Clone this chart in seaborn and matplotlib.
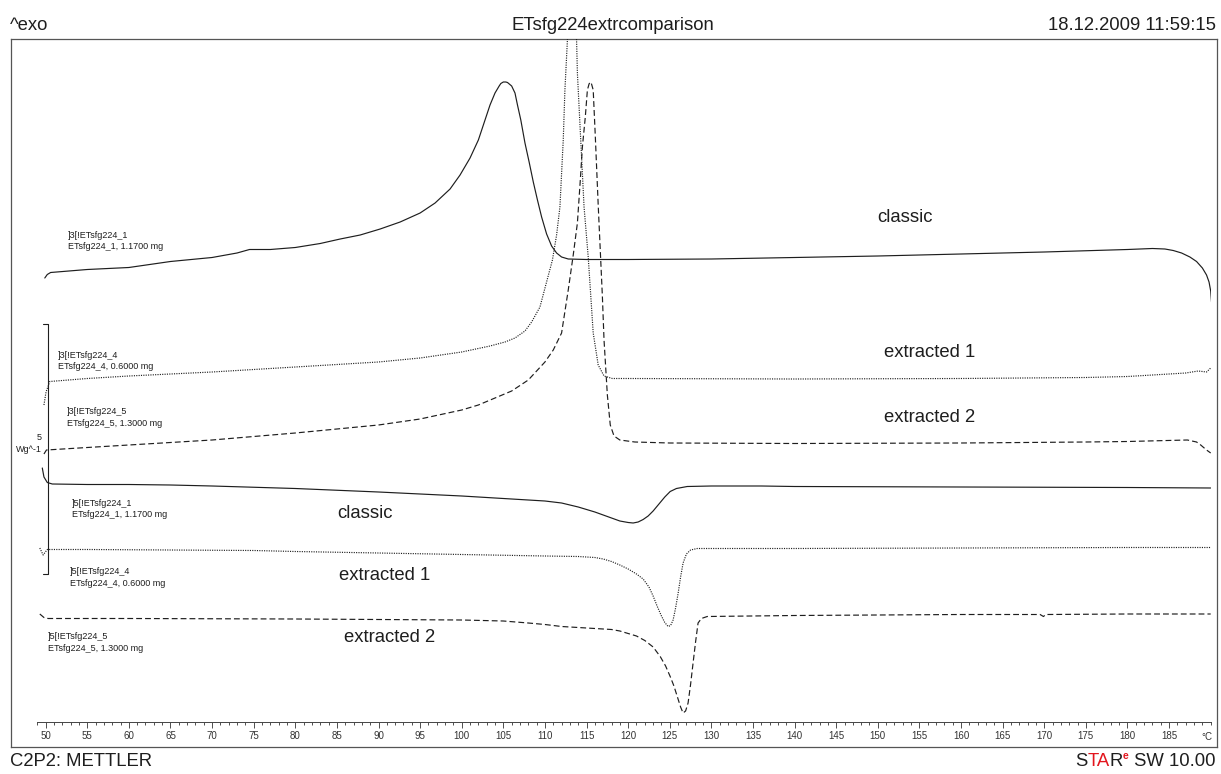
import matplotlib
matplotlib.use("Agg")
import matplotlib.pyplot as plt
from matplotlib.ticker import MultipleLocator
import numpy as np
import seaborn as sns

W, H = 1221, 774

# temperature (°C) and displayed heat flow (W/g, curves stacked as on the plot)
cool_classic_t = [49.9, 50.2, 50.6, 55, 60, 65, 70, 73, 74.5, 77, 80, 83, 85.4, 87.8, 90.2,
                  92.6, 95.0, 96.8, 98.6, 99.8, 101.0, 102.0, 102.8, 103.4, 104.0, 104.5,
                  104.7, 105.0, 105.3, 105.5, 106.0, 106.4, 106.7, 107.1, 107.6, 108.1,
                  108.6, 109.1, 109.6, 110.2, 110.8, 111.4, 112.0, 112.8, 115, 120, 130,
                  140, 150, 160, 170, 180, 183, 184.5, 185.5, 186.5, 187.5, 188.3, 189.0,
                  189.5, 189.8, 190.0, 190.1]
cool_classic_q = [8.88, 8.95, 8.99, 9.05, 9.09, 9.21, 9.29, 9.38, 9.45, 9.45, 9.49, 9.57,
                  9.66, 9.74, 9.86, 10.00, 10.18, 10.38, 10.66, 10.94, 11.28, 11.64, 12.04,
                  12.34, 12.58, 12.72, 12.77, 12.80, 12.80, 12.79, 12.72, 12.58, 12.34,
                  12.04, 11.58, 11.20, 10.80, 10.44, 10.10, 9.76, 9.52, 9.38, 9.30, 9.26,
                  9.25, 9.25, 9.26, 9.29, 9.32, 9.36, 9.40, 9.45, 9.47, 9.46, 9.43, 9.38,
                  9.30, 9.21, 9.08, 8.94, 8.80, 8.62, 8.40]

cool_ext1_t = [49.8, 50.05, 50.5, 55, 60, 70, 80, 90, 95, 100, 103.4, 105.2, 106.4, 107.6,
               108.4, 109.4, 110.1, 110.9, 111.4, 111.8, 112.2, 112.4, 112.7, 113.25,
               113.8, 113.9, 114.3, 114.7, 115.2, 115.8, 116.4, 117.1, 118.1, 120, 140,
               160, 175, 180, 185, 187, 188.5, 189.5, 190.0]
cool_ext1_q = [6.34, 6.60, 6.81, 6.87, 6.92, 7.00, 7.10, 7.20, 7.28, 7.40, 7.52, 7.60,
               7.68, 7.82, 8.00, 8.30, 8.74, 9.24, 9.74, 10.30, 11.64, 12.64, 13.64, 14.94,
               13.64, 12.98, 11.64, 10.30, 9.30, 7.78, 7.14, 6.92, 6.87, 6.87, 6.86, 6.87,
               6.89, 6.91, 6.96, 6.98, 7.02, 7.00, 7.08]

cool_ext2_t = [49.8, 50.1, 55, 60, 70, 80, 90, 95, 100, 102, 104, 106, 108, 110, 111, 112,
               112.8, 113.4, 113.9, 114.25, 114.5, 114.85, 115.1, 115.3, 115.45, 115.6,
               115.8, 116.05, 116.4, 116.9, 117.1, 117.5, 117.85, 118.3, 119, 120.8, 125,
               140, 160, 175, 180, 187.2, 188.3, 188.8, 189.5, 190.0]
cool_ext2_q = [5.36, 5.44, 5.49, 5.54, 5.64, 5.78, 5.94, 6.06, 6.24, 6.34, 6.48, 6.62,
               6.84, 7.20, 7.44, 7.78, 8.64, 9.34, 9.98, 10.84, 11.50, 12.10, 12.64, 12.76,
               12.80, 12.76, 12.64, 11.72, 10.34, 8.52, 7.64, 6.54, 5.94, 5.72, 5.64, 5.60,
               5.58, 5.57, 5.58, 5.60, 5.61, 5.64, 5.60, 5.54, 5.44, 5.38]

heat_classic_t = [49.6, 49.8, 50.2, 50.8, 55, 60, 65, 70, 80, 90, 100, 105, 110, 112, 113,
                  114, 115, 116, 117, 118, 119, 120, 120.6, 121.2, 121.8, 122.4, 123.0,
                  123.8, 124.4, 125.05, 125.8, 127.1, 130, 136, 140, 160, 180, 190]
heat_classic_q = [5.08, 4.90, 4.79, 4.76, 4.75, 4.75, 4.74, 4.72, 4.67, 4.60, 4.52, 4.47,
                  4.42, 4.38, 4.34, 4.30, 4.25, 4.20, 4.14, 4.08, 4.02, 3.99, 3.98, 4.00,
                  4.05, 4.12, 4.22, 4.38, 4.50, 4.61, 4.67, 4.71, 4.72, 4.72, 4.71, 4.70,
                  4.69, 4.68]

heat_ext1_t = [49.3, 49.7, 50.2, 55, 65, 75, 80, 90, 100, 110, 114, 116, 117, 118, 119, 120,
               121, 121.8, 122.5, 123.0, 123.5, 124.0, 124.4, 124.8, 125.1, 125.4, 125.7,
               126.0, 126.3, 126.6, 127.0, 127.5, 128.3, 140, 160, 180, 190]
heat_ext1_q = [3.48, 3.34, 3.45, 3.45, 3.44, 3.43, 3.41, 3.38, 3.35, 3.32, 3.31, 3.29,
               3.26, 3.21, 3.14, 3.06, 2.96, 2.86, 2.70, 2.52, 2.31, 2.12, 1.99, 1.91,
               1.93, 2.04, 2.28, 2.57, 2.90, 3.18, 3.36, 3.44, 3.47, 3.47, 3.48, 3.49, 3.49]

heat_ext2_t = [49.3, 49.8, 50.3, 60, 80, 100, 105, 108, 110, 112, 115, 118, 119, 120, 121,
               122, 123, 123.85, 124.5, 125.05, 125.5, 125.9, 126.3, 126.6, 126.9, 127.2,
               127.5, 127.8, 128.1, 128.4, 128.8, 129.5, 140, 160, 169.5, 169.9, 170.2,
               180, 190]
heat_ext2_q = [2.16, 2.09, 2.07, 2.07, 2.06, 2.04, 2.02, 1.98, 1.95, 1.91, 1.88, 1.85,
               1.82, 1.77, 1.72, 1.63, 1.50, 1.31, 1.12, 0.91, 0.72, 0.51, 0.30, 0.18,
               0.22, 0.38, 0.75, 1.18, 1.60, 1.98, 2.07, 2.11, 2.13, 2.15, 2.15, 2.11,
               2.15, 2.16, 2.16]

tick_temps = list(range(50, 190, 5))
scale_wg = 5

sns.set_style("white")
plt.rcParams["font.family"] = ["Liberation Sans", "DejaVu Sans"]
plt.rcParams["lines.scale_dashes"] = False

ink = "#1e1e1e"
dotted = (0, (0.8, 0.9))
dashed = (0, (4.2, 2.2))


def px_box(x0, y0, x1, y1):
    return [x0 / W, 1 - y1 / H, (x1 - x0) / W, (y1 - y0) / H]


def ptext(x, y, s, **kw):
    kw.setdefault("color", ink)
    return fig.text(x / W, 1 - y / H, s, **kw)


fig = plt.figure(figsize=(W / 100, H / 100), dpi=100)

# outer box
frame = fig.add_axes(px_box(11, 39.3, 1217, 746.7))
frame.set_xticks([])
frame.set_yticks([])
for s in frame.spines.values():
    s.set_color("#555555")
    s.set_linewidth(0.9)

# plotting area, bottom spine is the temperature ruler
ax = fig.add_axes(px_box(37.3, 39.3, 1210.7, 722))
ax.patch.set_alpha(0)

curves = [
    (cool_classic_t, cool_classic_q, "-"),
    (cool_ext1_t, cool_ext1_q, dotted),
    (cool_ext2_t, cool_ext2_q, dashed),
    (heat_classic_t, heat_classic_q, "-"),
    (heat_ext1_t, heat_ext1_q, dotted),
    (heat_ext2_t, heat_ext2_q, dashed),
]
for t, q, ls in curves:
    sns.lineplot(x=t, y=q, ax=ax, color=ink, linewidth=0.85, linestyle=ls,
                 estimator=None, sort=False)

ax.set_xlim(49, 190)
ax.set_ylim(0, (722 - 39.3) / 50)
ax.set_xlabel("")
ax.set_ylabel("")
ax.set_yticks([])
ax.set_xticks(tick_temps)
ax.set_xticklabels([str(v) for v in tick_temps])
ax.xaxis.set_minor_locator(MultipleLocator(1))
ax.tick_params(axis="x", which="major", direction="out", length=4, width=0.6,
               pad=2.5, labelsize=7, colors="#333333", bottom=True)
ax.tick_params(axis="x", which="minor", direction="out", length=2.4, width=0.6,
               colors="#333333", bottom=True)
for side in ["top", "left", "right"]:
    ax.spines[side].set_visible(False)
ax.spines["bottom"].set_color("#444444")
ax.spines["bottom"].set_linewidth(0.7)

# scale bar (5 W/g)
bar_t, bar_tick = 50.34, 49.74
bar_lo = 2.96
ax.plot([bar_tick, bar_t, bar_t, bar_tick], [bar_lo + scale_wg, bar_lo + scale_wg, bar_lo, bar_lo],
        color=ink, lw=0.8, clip_on=False)
ptext(39, 437, str(scale_wg), fontsize=6.5, ha="center", va="center")
ptext(42, 449, "Wg^-1", fontsize=6.5, ha="right", va="center")

ptext(1207, 737, "°C", fontsize=7, ha="center", va="center", color="#333333")

# header / footer
ptext(10, 30.5, "^exo", fontsize=13.3, ha="left", va="baseline")
ptext(613, 30.5, "ETsfg224extrcomparison", fontsize=13.3, ha="center", va="baseline")
ptext(1216, 30.5, "18.12.2009 11:59:15", fontsize=13.3, ha="right", va="baseline")
ptext(10, 766, "C2P2: METTLER", fontsize=13.3, ha="left", va="baseline")

red = "#e3161e"
s1 = ptext(1075, 766, "S", fontsize=13.3, ha="left", va="baseline")
s2 = ax.annotate("TA", xy=(1, 0), xycoords=s1, ha="left", va="bottom",
                 fontsize=13.3, color=red)
s3 = ax.annotate("R", xy=(1, 0), xycoords=s2, ha="left", va="bottom",
                 fontsize=13.3, color=ink)
s4 = ax.annotate("e", xy=(1, 0.55), xycoords=s3, ha="left", va="bottom",
                 fontsize=7.5, color=red, fontweight="bold")
ax.annotate(" SW 10.00", xy=(1, 0), xycoords=(s4, s3), ha="left", va="bottom",
            fontsize=13.3, color=ink)

# curve labels
for x, y, s in [(905, 218, "classic"), (930, 352, "extracted 1"), (930, 418, "extracted 2"),
                (365, 514, "classic"), (385, 575, "extracted 1"), (390, 638, "extracted 2")]:
    ptext(x, y, s, fontsize=13.3, ha="center", va="center")

# sample labels
for x, y, a, b in [(68, 235, "]3[!ETsfg224_1", "ETsfg224_1, 1.1700 mg"),
                   (58, 355, "]3[!ETsfg224_4", "ETsfg224_4, 0.6000 mg"),
                   (67, 411.7, "]3[!ETsfg224_5", "ETsfg224_5, 1.3000 mg"),
                   (72, 503, "]5[!ETsfg224_1", "ETsfg224_1, 1.1700 mg"),
                   (70, 571.7, "]5[!ETsfg224_4", "ETsfg224_4, 0.6000 mg"),
                   (48, 636.7, "]5[!ETsfg224_5", "ETsfg224_5, 1.3000 mg")]:
    ptext(x, y, a, fontsize=6.5, ha="left", va="center")
    ptext(x, y + 11.5, b, fontsize=6.5, ha="left", va="center")

fig.savefig("out.png", dpi=100)
